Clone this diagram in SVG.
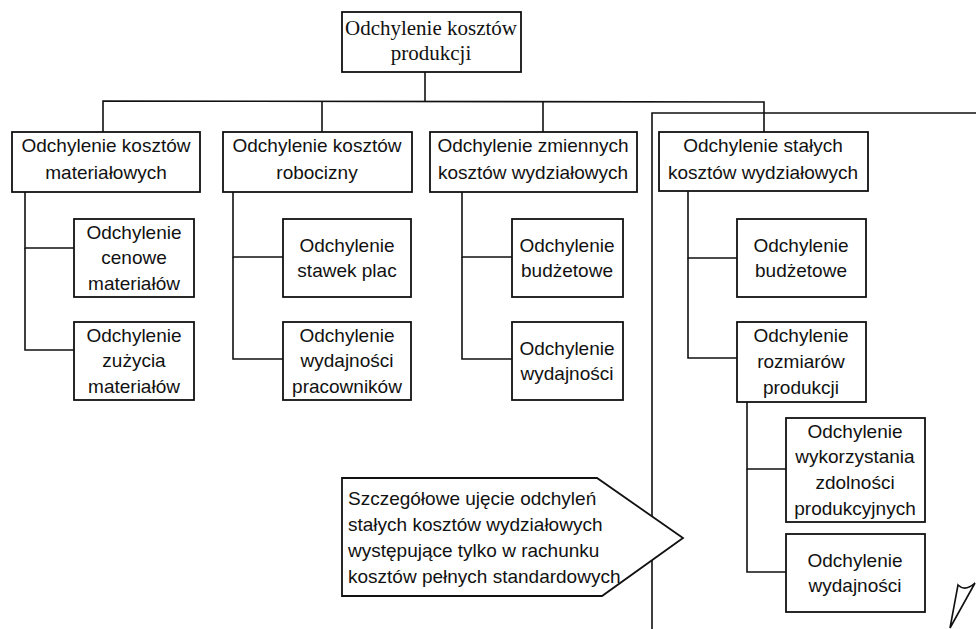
<svg xmlns="http://www.w3.org/2000/svg" width="976" height="629" viewBox="0 0 976 629">
<style>
.box{fill:#fff;stroke:#111;stroke-width:1.8}
.ln{fill:none;stroke:#111;stroke-width:1.6}
.t{font-family:"Liberation Sans",Arial,sans-serif;font-size:19px;fill:#111;text-anchor:middle}
.ts{font-family:"Liberation Serif","Times New Roman",serif;font-size:21px;fill:#111;text-anchor:middle}
.tl{font-family:"Liberation Sans",Arial,sans-serif;font-size:19px;fill:#111}
</style>
<rect width="976" height="629" fill="#fff"/>
<g id="frame">
<polyline class="ln" points="652,629 652,113 976,113"/>
</g>
<g id="connectors">
<line class="ln" x1="425" y1="72" x2="425" y2="101"/>
<polyline class="ln" points="103,132 103,101 764,102 764,132"/>
<line class="ln" x1="322" y1="101" x2="322" y2="132"/>
<line class="ln" x1="543" y1="101" x2="543" y2="132"/>
<polyline class="ln" points="74,248 25,248 25,192"/>
<polyline class="ln" points="25,248 25,350 74,350"/>
<polyline class="ln" points="283,257 233,257 233,192"/>
<polyline class="ln" points="233,257 233,359 283,359"/>
<polyline class="ln" points="512,257 462,257 462,192"/>
<polyline class="ln" points="462,257 462,359 512,359"/>
<polyline class="ln" points="737,258 688,258 688,191"/>
<polyline class="ln" points="688,258 688,358 737,358"/>
<polyline class="ln" points="786,469 747,469 747,402"/>
<polyline class="ln" points="747,469 747,572 786,572"/>
</g>
<g id="root">
<rect class="box" x="342" y="12" width="179" height="60"/>
<text class="ts" x="431" y="35">Odchylenie kosztów</text>
<text class="ts" x="431" y="60">produkcji</text>
</g>
<g id="b1">
<rect class="box" x="12" y="132" width="188" height="60"/>
<text class="t" x="106" y="152">Odchylenie kosztów</text>
<text class="t" x="106" y="179">materiałowych</text>
</g>
<g id="b2">
<rect class="box" x="223" y="132" width="189" height="60"/>
<text class="t" x="317" y="152">Odchylenie kosztów</text>
<text class="t" x="317" y="179">robocizny</text>
</g>
<g id="b3">
<rect class="box" x="430" y="132" width="207" height="60"/>
<text class="t" x="533" y="152">Odchylenie zmiennych</text>
<text class="t" x="533" y="179">kosztów wydziałowych</text>
</g>
<g id="b4">
<rect class="box" x="659" y="132" width="209" height="59"/>
<text class="t" x="763" y="152">Odchylenie stałych</text>
<text class="t" x="763" y="179">kosztów wydziałowych</text>
</g>
<g id="c11">
<rect class="box" x="74" y="219" width="120" height="78"/>
<text class="t" x="134" y="239">Odchylenie</text>
<text class="t" x="134" y="264">cenowe</text>
<text class="t" x="134" y="290">materiałów</text>
</g>
<g id="c12">
<rect class="box" x="74" y="322" width="120" height="78"/>
<text class="t" x="134" y="342">Odchylenie</text>
<text class="t" x="134" y="367">zużycia</text>
<text class="t" x="134" y="393">materiałów</text>
</g>
<g id="c21">
<rect class="box" x="283" y="219" width="128" height="78"/>
<text class="t" x="347" y="252">Odchylenie</text>
<text class="t" x="347" y="277">stawek plac</text>
</g>
<g id="c22">
<rect class="box" x="283" y="322" width="128" height="78"/>
<text class="t" x="347" y="342">Odchylenie</text>
<text class="t" x="347" y="367">wydajności</text>
<text class="t" x="347" y="393">pracowników</text>
</g>
<g id="c31">
<rect class="box" x="512" y="219" width="111" height="78"/>
<text class="t" x="567" y="252">Odchylenie</text>
<text class="t" x="567" y="277">budżetowe</text>
</g>
<g id="c32">
<rect class="box" x="512" y="322" width="111" height="78"/>
<text class="t" x="567" y="355">Odchylenie</text>
<text class="t" x="567" y="380">wydajności</text>
</g>
<g id="c41">
<rect class="box" x="737" y="219" width="129" height="78"/>
<text class="t" x="801" y="252">Odchylenie</text>
<text class="t" x="801" y="277">budżetowe</text>
</g>
<g id="c42">
<rect class="box" x="737" y="322" width="129" height="80"/>
<text class="t" x="801" y="342">Odchylenie</text>
<text class="t" x="801" y="368">rozmiarów</text>
<text class="t" x="801" y="394">produkcji</text>
</g>
<g id="g1">
<rect class="box" x="786" y="418" width="139" height="104"/>
<text class="t" x="855" y="438">Odchylenie</text>
<text class="t" x="855" y="463">wykorzystania</text>
<text class="t" x="855" y="489">zdolności</text>
<text class="t" x="855" y="515">produkcyjnych</text>
</g>
<g id="g2">
<rect class="box" x="786" y="534" width="139" height="78"/>
<text class="t" x="855" y="567">Odchylenie</text>
<text class="t" x="855" y="592">wydajności</text>
</g>
<g id="callout">
<polygon class="box" points="342,478 597,478 683,538 602,596 342,596"/>
<text class="tl" x="348" y="505">Szczegółowe ujęcie odchyleń</text>
<text class="tl" x="348" y="531">stałych kosztów wydziałowych</text>
<text class="tl" x="348" y="557">występujące tylko w rachunku</text>
<text class="tl" x="348" y="583">kosztów pełnych standardowych</text>
</g>
<g id="mark">
<path class="ln" d="M958,585 Q965,592 975,583 L950,628 Z"/>
</g>
</svg>
